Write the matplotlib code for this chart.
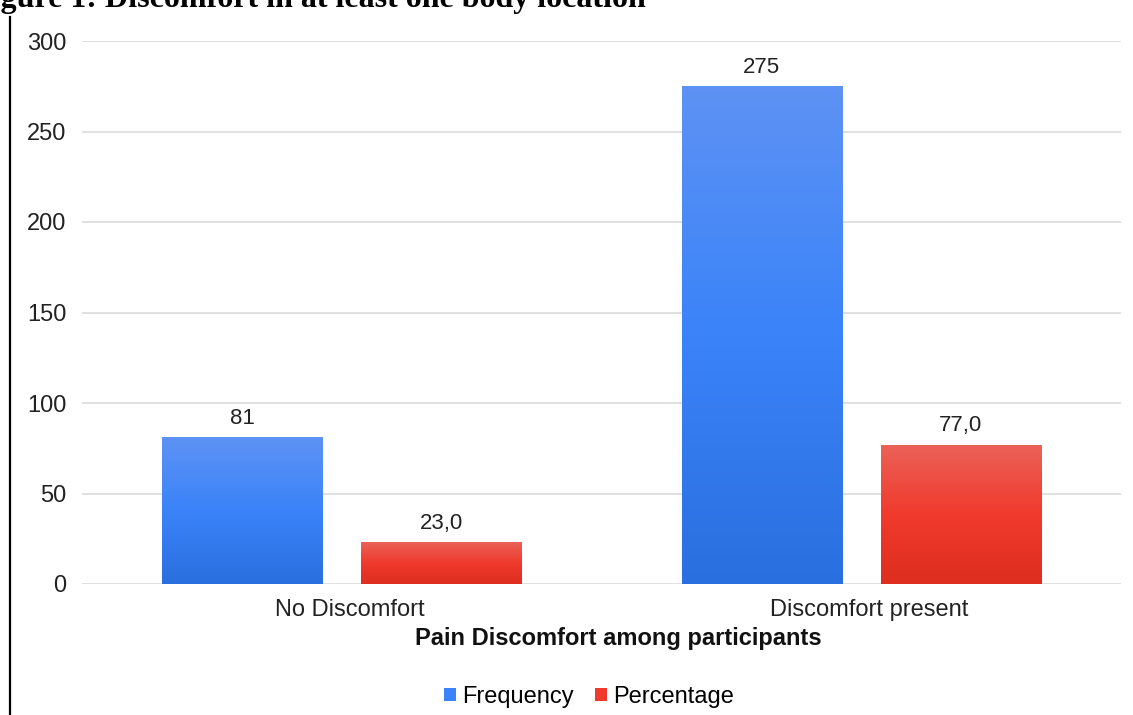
import matplotlib
matplotlib.use("Agg")
import matplotlib.pyplot as plt
from matplotlib.colors import LinearSegmentedColormap
from matplotlib.lines import Line2D
from matplotlib.patches import Patch
import numpy as np

# data
categories = ["No Discomfort", "Discomfort present"]
frequency = [81, 275]
percentage = [23.0, 77.0]
freq_labels = ["81", "275"]
pct_labels = ["23,0", "77,0"]
series_names = ["Frequency", "Percentage"]
y_ticks = [0, 50, 100, 150, 200, 250, 300]

plt.rcParams["font.family"] = ["Liberation Sans", "DejaVu Sans"]

W, H = 1133, 715
fig = plt.figure(figsize=(W / 100, H / 100), dpi=100)
# plot area in pixels: x 82..1121, y(300)=41, y(0)=584
ax = fig.add_axes([82 / W, 1 - 584 / H, (1121 - 82) / W, (584 - 41) / H])

blue_cmap = LinearSegmentedColormap.from_list("b", ["#2a6fdf", "#3a83f9", "#5e92f4"])
red_cmap = LinearSegmentedColormap.from_list("r", ["#dd2e1f", "#f03a2d", "#eb6258"])

x = np.arange(len(categories))
bw = 0.308
off = 0.1915

ax.yaxis.grid(True, color="#dadada", linewidth=1.2)
ax.set_axisbelow(True)
for s in ax.spines.values():
    s.set_visible(False)
ax.tick_params(length=0, labelsize=17, colors="#222222")
ax.tick_params(axis="y", pad=11)
ax.tick_params(axis="x", pad=11)
ax.set_yticks(y_ticks)
ax.set_xticks(x + 0.015)
ax.set_xticklabels(categories)


def grad_bars(xs, vals, cmap):
    bars = ax.bar(xs, vals, width=bw, color="none", edgecolor="none", zorder=2)
    grad = np.linspace(0, 1, 256).reshape(-1, 1)
    for b in bars:
        x0, y0 = b.get_x(), b.get_y()
        im = ax.imshow(grad, cmap=cmap, aspect="auto", origin="lower",
                       extent=[x0, x0 + b.get_width(), y0, y0 + b.get_height()],
                       zorder=2)
        im.set_clip_path(b)
    return bars


b1 = grad_bars(x - off, frequency, blue_cmap)
b2 = grad_bars(x + off, percentage, red_cmap)
ax.set_xlim(-0.5, 1.5)
ax.set_ylim(0, 300)
ax.set_aspect("auto")

ax.bar_label(b1, labels=freq_labels, padding=6, fontsize=16, color="#222222")
ax.bar_label(b2, labels=pct_labels, padding=6, fontsize=16, color="#222222")

ax.set_xlabel("Pain Discomfort among participants", fontsize=17,
              fontweight="bold", color="#111111", va="baseline")
ax.xaxis.set_label_coords((618 - 82) / 1039, -(645 - 584) / 543)

handles = [Patch(facecolor="#3a83f9"), Patch(facecolor="#f03a2d")]
fig.legend(handles, series_names, loc="center", bbox_to_anchor=(589 / W, 1 - 697 / H),
           ncol=2, frameon=False, fontsize=17, handlelength=0.5, handleheight=0.5,
           handletextpad=0.25, columnspacing=0.9)

# title (cropped at left edge like the source page)
fig.text(-28 / W, 1 - 7 / H, "Figure 1: Discomfort in at least one body location",
         family=["Liberation Serif", "DejaVu Serif"], fontweight="bold",
         fontsize=23, va="baseline", ha="left")

# vertical page rule on the left
fig.add_artist(Line2D([9.5 / W, 9.5 / W], [0, 1 - 17 / H], color="black", linewidth=1.6))

fig.savefig("out.png", dpi=100)
